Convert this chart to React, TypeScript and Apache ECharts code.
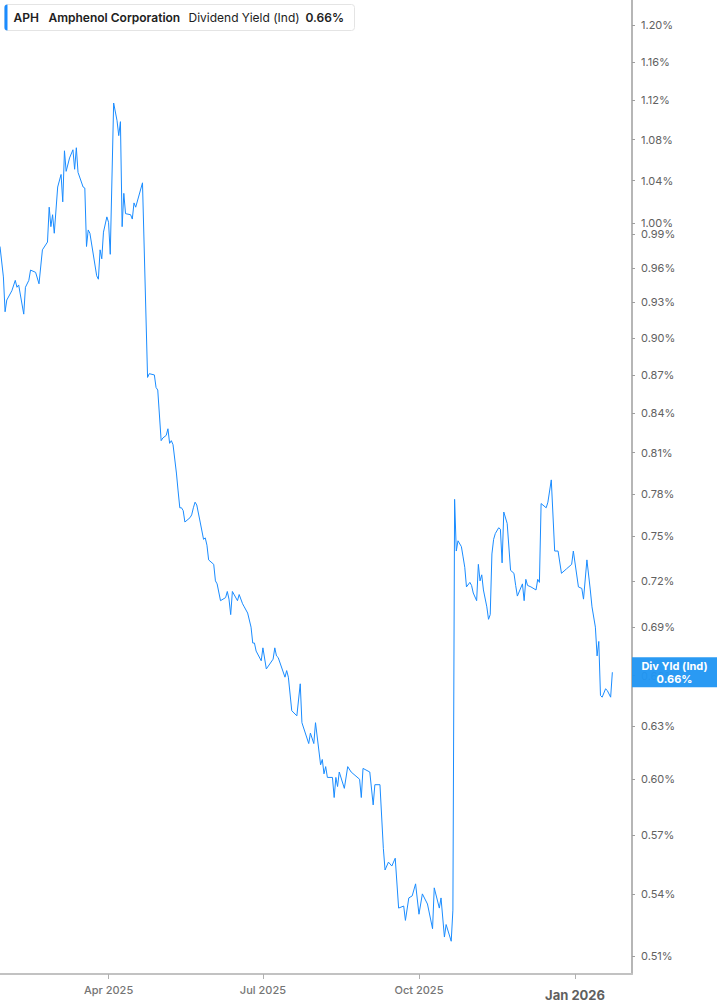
import { useEffect, useRef } from 'react';
import * as echarts from 'echarts';

// APH dividend yield (indicated), %
const dates = [
  '2025-01-27', '2025-01-29', '2025-01-30', '2025-01-31', '2025-02-03', '2025-02-05', '2025-02-06', '2025-02-07',
  '2025-02-10', '2025-02-11', '2025-02-13', '2025-02-14', '2025-02-17', '2025-02-19', '2025-02-21', '2025-02-24',
  '2025-02-25', '2025-02-26', '2025-02-27', '2025-02-28', '2025-03-02', '2025-03-04', '2025-03-05', '2025-03-06',
  '2025-03-07', '2025-03-09', '2025-03-11', '2025-03-12', '2025-03-13', '2025-03-14', '2025-03-17', '2025-03-18',
  '2025-03-19', '2025-03-20', '2025-03-21', '2025-03-25', '2025-03-26', '2025-03-27', '2025-03-28', '2025-03-29',
  '2025-03-31', '2025-04-01', '2025-04-02', '2025-04-04', '2025-04-06', '2025-04-07', '2025-04-08', '2025-04-09',
  '2025-04-10', '2025-04-11', '2025-04-14', '2025-04-15', '2025-04-16', '2025-04-17', '2025-04-21', '2025-04-24',
  '2025-04-25', '2025-04-28', '2025-04-29', '2025-04-30', '2025-05-02', '2025-05-03', '2025-05-05', '2025-05-06',
  '2025-05-07', '2025-05-08', '2025-05-09', '2025-05-11', '2025-05-12', '2025-05-13', '2025-05-14', '2025-05-15',
  '2025-05-16', '2025-05-19', '2025-05-20', '2025-05-21', '2025-05-22', '2025-05-23', '2025-05-25', '2025-05-27',
  '2025-05-28', '2025-05-29', '2025-05-30', '2025-06-02', '2025-06-03', '2025-06-04', '2025-06-06', '2025-06-09',
  '2025-06-10', '2025-06-11', '2025-06-12', '2025-06-13', '2025-06-16', '2025-06-17', '2025-06-19', '2025-06-20',
  '2025-06-22', '2025-06-24', '2025-06-25', '2025-06-26', '2025-06-27', '2025-06-30', '2025-07-01', '2025-07-03',
  '2025-07-07', '2025-07-08', '2025-07-09', '2025-07-10', '2025-07-14', '2025-07-15', '2025-07-16', '2025-07-18',
  '2025-07-21', '2025-07-23', '2025-07-24', '2025-07-28', '2025-07-29', '2025-07-31', '2025-08-01', '2025-08-04',
  '2025-08-05', '2025-08-06', '2025-08-07', '2025-08-08', '2025-08-11', '2025-08-12', '2025-08-13', '2025-08-14',
  '2025-08-15', '2025-08-18', '2025-08-20', '2025-08-22', '2025-08-27', '2025-08-28', '2025-08-29', '2025-09-02',
  '2025-09-04', '2025-09-05', '2025-09-08', '2025-09-10', '2025-09-11', '2025-09-13', '2025-09-15', '2025-09-17',
  '2025-09-19', '2025-09-22', '2025-09-23', '2025-09-25', '2025-09-27', '2025-09-29', '2025-10-01', '2025-10-03',
  '2025-10-06', '2025-10-09', '2025-10-10', '2025-10-13', '2025-10-14', '2025-10-16', '2025-10-17', '2025-10-20',
  '2025-10-21', '2025-10-22', '2025-10-23', '2025-10-24', '2025-10-26', '2025-10-27', '2025-10-28', '2025-10-29',
  '2025-10-31', '2025-11-01', '2025-11-02', '2025-11-04', '2025-11-05', '2025-11-06', '2025-11-07', '2025-11-08',
  '2025-11-10', '2025-11-11', '2025-11-12', '2025-11-13', '2025-11-14', '2025-11-15', '2025-11-17', '2025-11-18',
  '2025-11-19', '2025-11-20', '2025-11-22', '2025-11-24', '2025-11-26', '2025-11-27', '2025-11-28', '2025-12-01',
  '2025-12-02', '2025-12-03', '2025-12-04', '2025-12-06', '2025-12-09', '2025-12-10', '2025-12-11', '2025-12-12',
  '2025-12-15', '2025-12-16', '2025-12-18', '2025-12-20', '2025-12-22', '2025-12-24', '2025-12-27', '2025-12-30',
  '2025-12-31', '2026-01-03', '2026-01-05', '2026-01-06', '2026-01-08', '2026-01-10', '2026-01-11', '2026-01-13',
  '2026-01-14', '2026-01-15', '2026-01-16', '2026-01-17', '2026-01-19', '2026-01-20', '2026-01-22', '2026-01-23',
];

const yieldPct = [
  0.979, 0.952, 0.922, 0.932, 0.940, 0.949, 0.943, 0.945,
  0.920, 0.943, 0.949, 0.958, 0.956, 0.946, 0.976, 0.983,
  1.015, 0.997, 1.008, 0.991, 1.034, 1.046, 1.020, 1.069,
  1.049, 1.062, 1.070, 1.051, 1.072, 1.048, 1.034, 1.033,
  0.979, 0.994, 0.991, 0.953, 0.950, 0.976, 0.968, 0.992,
  1.006, 1.001, 0.972, 1.117, 1.099, 1.084, 1.098, 0.997,
  1.028, 1.009, 1.008, 1.004, 1.019, 1.015, 1.038, 0.868,
  0.871, 0.870, 0.860, 0.858, 0.819, 0.821, 0.823, 0.828,
  0.817, 0.819, 0.816, 0.795, 0.782, 0.770, 0.770, 0.768,
  0.760, 0.763, 0.765, 0.770, 0.774, 0.772, 0.760, 0.748,
  0.749, 0.744, 0.734, 0.731, 0.720, 0.718, 0.707, 0.709,
  0.713, 0.708, 0.698, 0.713, 0.707, 0.711, 0.705, 0.703,
  0.699, 0.690, 0.680, 0.680, 0.675, 0.669, 0.677, 0.664,
  0.670, 0.677, 0.672, 0.671, 0.659, 0.663, 0.659, 0.639,
  0.636, 0.655, 0.632, 0.620, 0.626, 0.620, 0.632, 0.608,
  0.611, 0.603, 0.607, 0.601, 0.601, 0.590, 0.601, 0.596,
  0.604, 0.595, 0.607, 0.604, 0.600, 0.590, 0.606, 0.604,
  0.586, 0.597, 0.597, 0.563, 0.552, 0.556, 0.554, 0.558,
  0.533, 0.534, 0.527, 0.538, 0.539, 0.545, 0.530, 0.540,
  0.535, 0.523, 0.543, 0.533, 0.538, 0.519, 0.525, 0.517,
  0.532, 0.776, 0.740, 0.747, 0.743, 0.736, 0.729, 0.716,
  0.719, 0.717, 0.712, 0.707, 0.731, 0.720, 0.724, 0.714,
  0.703, 0.695, 0.698, 0.738, 0.748, 0.752, 0.756, 0.755,
  0.732, 0.767, 0.759, 0.727, 0.725, 0.717, 0.710, 0.718,
  0.707, 0.721, 0.717, 0.716, 0.714, 0.721, 0.719, 0.773,
  0.770, 0.774, 0.790, 0.740, 0.740, 0.725, 0.728, 0.731,
  0.740, 0.716, 0.715, 0.708, 0.734, 0.714, 0.703, 0.690,
  0.672, 0.681, 0.648, 0.647, 0.652, 0.651, 0.647, 0.662,
];

const yTicks = [
  1.2, 1.16, 1.12, 1.08, 1.04, 1.0, 0.99, 0.96, 0.93, 0.9, 0.87, 0.84,
  0.81, 0.78, 0.75, 0.72, 0.69, 0.66, 0.63, 0.6, 0.57, 0.54, 0.51,
];
const xTicks = ['2025-04-01', '2025-07-01', '2025-10-01', '2026-01-01'];
const xTickLabels = ['Apr 2025', 'Jul 2025', 'Oct 2025', 'Jan 2026'];

const LINE_BLUE = '#1a8cff';
const TAG_BLUE = '#2196f3';

const toTime = (d: string) => new Date(d + 'T00:00:00').getTime();

export default function App() {
  const chartRef = useRef<HTMLDivElement>(null);

  useEffect(() => {
    if (!chartRef.current) return;
    const chart = echarts.init(chartRef.current, undefined, { renderer: 'svg' });

    const tickTimes = xTicks.map(toTime);
    const last = yieldPct[yieldPct.length - 1];

    const option = {
      animation: false,
      grid: { left: 0, right: 85, top: 0, bottom: 31 },
      xAxis: {
        // numeric time axis (ms) so the month ticks can be placed exactly
        type: 'value',
        min: toTime('2025-01-27'),
        max: new Date('2026-02-03T14:00:00').getTime(),
        axisLine: { show: true, onZero: false, lineStyle: { color: '#c2c2c2', width: 2 } },
        axisTick: {
          show: true,
          customValues: tickTimes,
          length: 5,
          lineStyle: { color: '#b0b0b0', width: 1 },
        },
        axisLabel: {
          customValues: tickTimes,
          margin: 10,
          color: '#757575',
          fontFamily: 'Inter',
          fontSize: 11,
          fontWeight: 500,
          formatter: (val: number) => {
            const i = tickTimes.findIndex((t) => Math.abs(t - val) < 86400000);
            if (i < 0) return '';
            return i === 3 ? `{b|${xTickLabels[i]}}` : xTickLabels[i];
          },
          rich: {
            b: {
              fontWeight: 'bold',
              fontSize: 13,
              color: '#5f5f5f',
              fontFamily: 'Inter',
              padding: [4, 0, 0, 0],
            },
          },
        },
        splitLine: { show: false },
      },
      yAxis: {
        type: 'value',
        position: 'right',
        min: Math.log(0.50167),
        max: Math.log(1.2279),
        axisLine: { show: true, onZero: false, lineStyle: { color: '#9e9e9e', width: 1.5 } },
        axisTick: {
          show: true,
          customValues: yTicks.map((v) => Math.log(v)),
          length: 3,
          lineStyle: { color: '#9e9e9e' },
        },
        axisLabel: {
          customValues: yTicks.map((v) => Math.log(v)),
          margin: 9,
          color: '#616161',
          fontFamily: 'Inter',
          fontSize: 11,
          formatter: (v: number) => Math.exp(v).toFixed(2) + '%',
        },
        splitLine: { show: false },
      },
      series: [
        {
          type: 'line',
          data: dates.map((d, i) => [toTime(d), Math.log(yieldPct[i])]),
          showSymbol: false,
          lineStyle: { color: LINE_BLUE, width: 1 },
          clip: true,
        },
      ],
    };
    chart.setOption(option);

    const tagY = chart.convertToPixel({ yAxisIndex: 0 }, Math.log(last)) as number;
    const Z = 200;

    chart.setOption({
      graphic: [
        {
          type: 'group',
          left: 4,
          top: 4,
          children: [
            {
              type: 'rect',
              z: Z,
              shape: { x: 0, y: 0, width: 350, height: 26, r: 3 },
              style: { fill: '#ffffff', stroke: '#e4e4e4', lineWidth: 1 },
            },
            {
              type: 'rect',
              z: Z + 1,
              shape: { x: 0, y: 0, width: 3, height: 26, r: [3, 0, 0, 3] },
              style: { fill: '#1a8cff' },
            },
            {
              type: 'text',
              z: Z + 1,
              x: 9,
              y: 13,
              style: { text: 'APH', font: '600 12px Inter', fill: '#212121', verticalAlign: 'middle' },
            },
            {
              type: 'text',
              z: Z + 1,
              x: 44,
              y: 13,
              style: { text: 'Amphenol Corporation', font: '600 12px Inter', fill: '#212121', verticalAlign: 'middle' },
            },
            {
              type: 'text',
              z: Z + 1,
              x: 184,
              y: 13,
              style: { text: 'Dividend Yield (Ind)', font: '400 12px Inter', fill: '#212121', verticalAlign: 'middle' },
            },
            {
              type: 'text',
              z: Z + 1,
              x: 301,
              y: 13,
              style: { text: last.toFixed(2) + '%', font: '600 12px Inter', fill: '#212121', verticalAlign: 'middle' },
            },
          ],
        },
        {
          type: 'group',
          x: 632,
          y: tagY - 15,
          children: [
            {
              type: 'rect',
              z: Z,
              shape: { x: 0, y: 0, width: 85, height: 30 },
              style: { fill: TAG_BLUE, opacity: 0.96 },
            },
            {
              type: 'text',
              z: Z + 1,
              x: 42.5,
              y: 8.5,
              style: {
                text: 'Div Yld (Ind)',
                font: 'bold 11px Inter',
                fill: '#ffffff',
                align: 'center',
                verticalAlign: 'middle',
              },
            },
            {
              type: 'text',
              z: Z + 1,
              x: 42.5,
              y: 21.5,
              style: {
                text: last.toFixed(2) + '%',
                font: 'bold 11px Inter',
                fill: '#ffffff',
                align: 'center',
                verticalAlign: 'middle',
              },
            },
          ],
        },
      ],
    });

    return () => {
      chart.dispose();
    };
  }, []);

  return (
    <div style={{ position: 'fixed', left: 0, top: 0, width: 717, height: 1005, background: '#fff' }}>
      <div ref={chartRef} style={{ width: 717, height: 1005 }} />
    </div>
  );
}
